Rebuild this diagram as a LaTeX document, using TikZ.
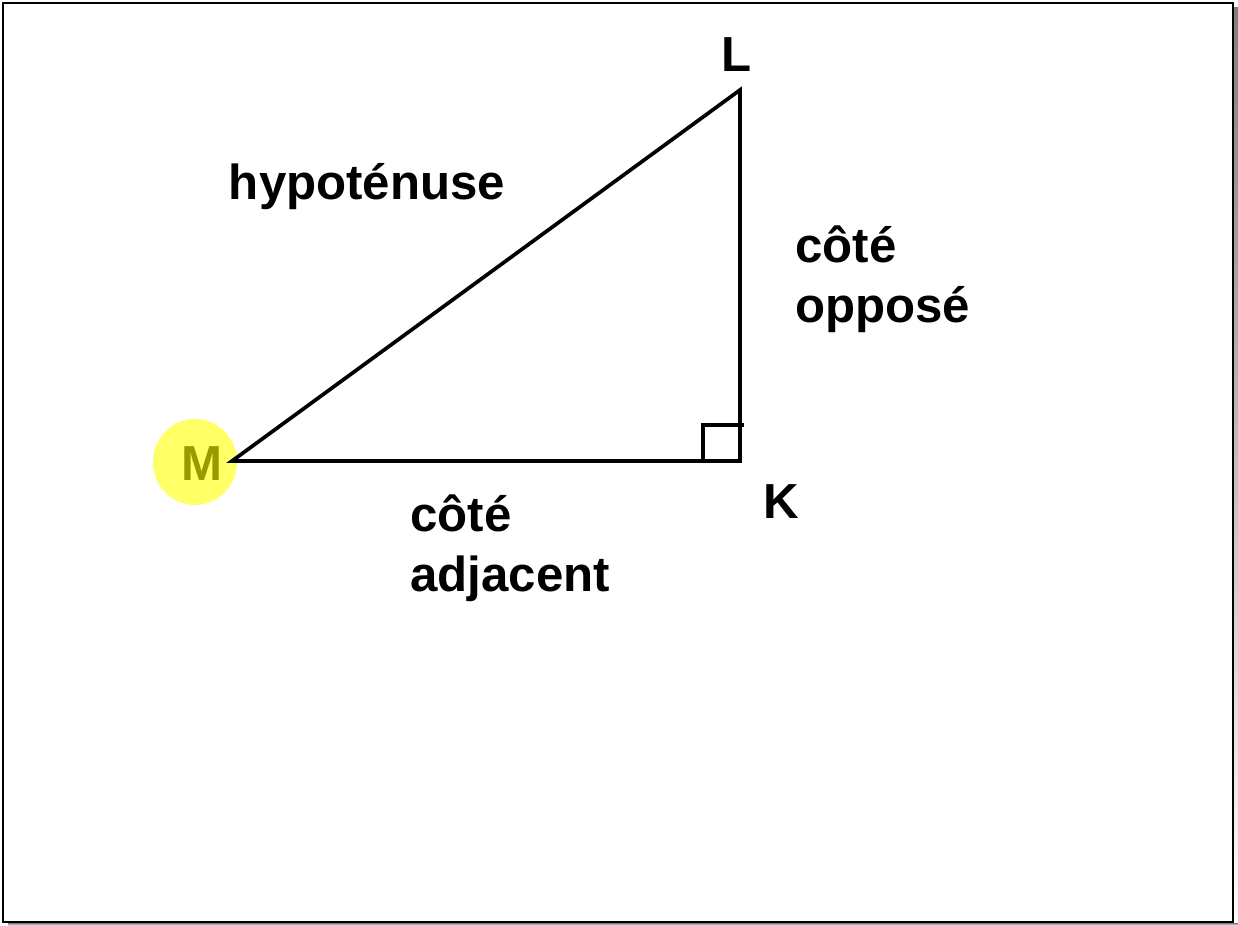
\documentclass[tikz,border=0pt]{standalone}
\usepackage{fontspec}
\setmainfont{Liberation Sans}
\usetikzlibrary{positioning,shapes.geometric}
\definecolor{ink}{RGB}{0,0,0}
\definecolor{hilite}{RGB}{255,255,102}
\definecolor{olive}{RGB}{153,153,0}
\definecolor{shade}{RGB}{128,128,128}
\tikzset{
  side/.style={draw=ink, line width=2.1pt, line cap=rect},
  lbl/.style={font=\fontsize{28}{34}\selectfont\bfseries, align=left, text=ink, inner sep=0pt},
  vtx/.style={font=\fontsize{28}{34}\selectfont\bfseries, text=ink, inner sep=0pt},
}
\begin{document}
\begin{tikzpicture}[x=0.02cm, y=-0.02cm]
  \useasboundingbox (0,0) rectangle (1238,926);
  % frame with shadow
  \fill[shade] (1234,8) rectangle (1238,926);
  \fill[shade] (8,923) rectangle (1238,926);
  \draw[line width=1.6pt] (3,3) rectangle (1233,922);

  % vertices
  \coordinate (m) at (232,461);
  \coordinate (k) at (740,461);
  \coordinate (l) at (740,90);

  \fill[hilite] (195,462) ellipse [x radius=42, y radius=43];

  \draw[side] (m) -- (k) -- (l) -- cycle;
  \draw[side] (k) ++(-37,0) -- ++(0,-36) -- ++(39,0);

  \node[vtx, text=olive] (mlbl) at (202,464) {M};
  \node[vtx] (klbl) at (781,502) {K};
  \node[vtx] (llbl) at (737,55) {L};

  \node[lbl] (hyp) at (367,187) {hypoténuse};
  \node[lbl, anchor=west] (opp) at (795,279) {côté\\opposé};
  \node[lbl, anchor=west] (adj) at (410,548) {côté\\adjacent};
\end{tikzpicture}
\end{document}
